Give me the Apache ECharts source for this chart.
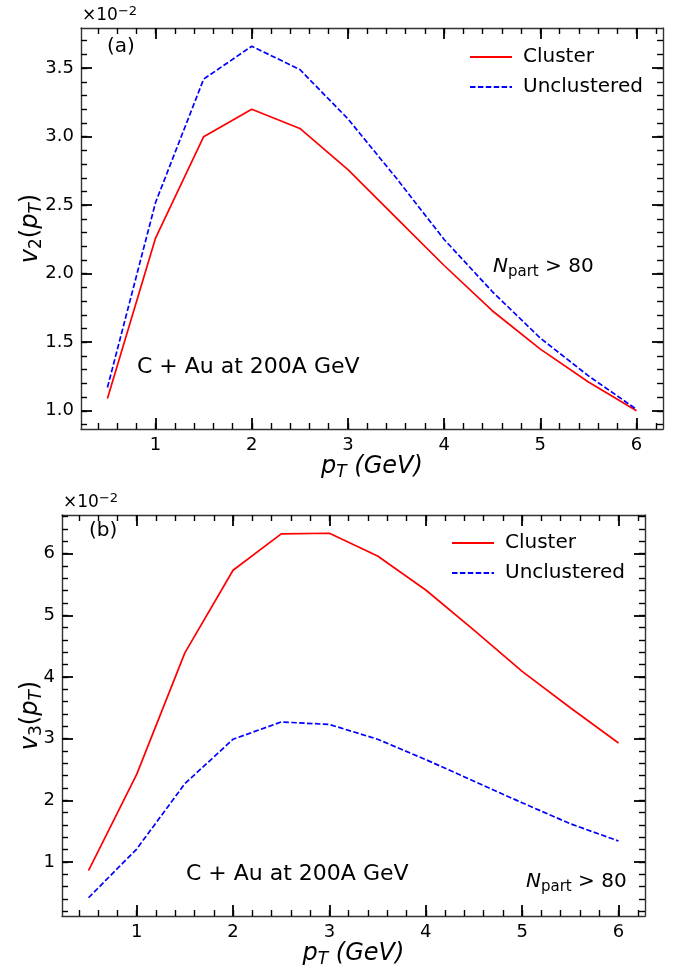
<!DOCTYPE html>
<html>
<head>
<meta charset="utf-8">
<title>v2 / v3 vs pT, C+Au</title>
<script src="https://cdn.jsdelivr.net/npm/echarts@6/dist/echarts.min.js"></script>
</head>
<body style="margin:0;background:#fff">
<div id="main" style="width:683px;height:970px;"></div>
<script>
// transverse momentum points (GeV)
var pt = [0.5, 1, 1.5, 2, 2.5, 3, 3.5, 4, 4.5, 5, 5.5, 6];
// v2 values, in units of 1e-2
var v2Cluster     = [1.09, 2.26, 3.00, 3.20, 3.06, 2.76, 2.41, 2.06, 1.73, 1.45, 1.21, 1.00];
var v2Unclustered = [1.17, 2.52, 3.42, 3.66, 3.49, 3.13, 2.70, 2.25, 1.87, 1.53, 1.255, 1.01];
// v3 values, in units of 1e-2
var v3Cluster     = [0.86, 2.42, 4.39, 5.73, 6.32, 6.33, 5.96, 5.41, 4.76, 4.09, 3.50, 2.93];
var v3Unclustered = [0.42, 1.21, 2.27, 2.99, 3.27, 3.23, 2.99, 2.66, 2.31, 1.96, 1.62, 1.34];

// tick labels
var xTicks = [1, 2, 3, 4, 5, 6];
var v2Ticks = [1.0, 1.5, 2.0, 2.5, 3.0, 3.5];
var v3Ticks = [1, 2, 3, 4, 5, 6];

var FONT = 'DejaVu Sans';

function steps(from, to, step) {
  var out = [];
  for (var v = from; v <= to + 1e-9; v += step) out.push(Math.round(v * 1000) / 1000);
  return out;
}
var xMinor = steps(0.4, 6.2, 0.2);
var v2Minor = steps(0.9, 3.7, 0.1);
var v3Minor = steps(0.2, 6.6, 0.2);

var XR = [0.225, 6.275];
var V2R = [0.867, 3.793];
var V3R = [0.1245, 6.6255];

// one axis that only draws ticks (and the frame line if asked)
function tickAxis(grid, pos, range, vals, major, frame) {
  return {
    type: 'value', gridIndex: grid, position: pos, min: range[0], max: range[1],
    axisLine: { show: !!frame, onZero: false, lineStyle: { color: '#333', width: 1.4 } },
    axisTick: {
      show: true, inside: true, length: major ? 11 : 6, customValues: vals,
      lineStyle: { color: '#000', width: major ? 1.8 : 1.4 }
    },
    axisLabel: { show: false },
    splitLine: { show: false }
  };
}

var tickLabel = { fontFamily: FONT, fontSize: 18, color: '#000', margin: 7 };
var nameRich = {
  i: { fontFamily: FONT, fontSize: 24, fontStyle: 'italic', color: '#000', lineHeight: 28 },
  n: { fontFamily: FONT, fontSize: 24, color: '#000', lineHeight: 28 },
  s: { fontFamily: FONT, fontSize: 17, color: '#000', lineHeight: 17, verticalAlign: 'bottom' },
  si: { fontFamily: FONT, fontSize: 17, fontStyle: 'italic', color: '#000', lineHeight: 17, verticalAlign: 'bottom' }
};

function panelAxes(grid, yRange, yMajor, yMinor, yFmt, yName, yGap) {
  var xb = tickAxis(grid, 'bottom', XR, xTicks, true, true);
  xb.axisLabel = Object.assign({ show: true, customValues: xTicks }, tickLabel);
  xb.name = '{i|p}{si|T}{i| (GeV)}';
  xb.nameLocation = 'middle';
  xb.nameGap = 24;
  xb.nameMoveOverlap = false;
  xb.nameTextStyle = { rich: nameRich };
  var yl = tickAxis(grid, 'left', yRange, yMajor, true, true);
  yl.axisLabel = Object.assign({ show: true, customValues: yMajor, formatter: yFmt }, tickLabel);
  yl.name = yName;
  yl.nameLocation = 'middle';
  yl.nameRotate = 90;
  yl.nameGap = yGap;
  yl.nameMoveOverlap = false;
  yl.nameTextStyle = { rich: nameRich };
  return {
    x: [xb, tickAxis(grid, 'bottom', XR, xMinor, false),
        tickAxis(grid, 'top', XR, xTicks, true, true), tickAxis(grid, 'top', XR, xMinor, false)],
    y: [yl, tickAxis(grid, 'left', yRange, yMinor, false),
        tickAxis(grid, 'right', yRange, yMajor, true, true), tickAxis(grid, 'right', yRange, yMinor, false)]
  };
}

var axA = panelAxes(0, V2R, v2Ticks, v2Minor, function (v) { return v.toFixed(1); },
  '{i|v}{s|2}{n|(}{i|p}{si|T}{n|)}', 36);
var axB = panelAxes(1, V3R, v3Ticks, v3Minor, function (v) { return String(v); },
  '{i|v}{s|3}{n|(}{i|p}{si|T}{n|)}', 17);

function pairs(ys) { return pt.map(function (x, i) { return [x, ys[i]]; }); }
function lineSeries(name, ys, xi, yi, color, dashed) {
  return {
    name: name, type: 'line', xAxisIndex: xi, yAxisIndex: yi, symbol: 'none',
    lineStyle: { color: color, width: 1.7, type: dashed ? [5.5, 2.4] : 'solid' },
    itemStyle: { color: color }, data: pairs(ys)
  };
}

function txt(left, top, text, size, rich) {
  return { type: 'text', left: left, top: top,
    style: { text: text, fontFamily: FONT, fontSize: size, fill: '#000', rich: rich } };
}
var npartRich = {
  i: { fontFamily: FONT, fontSize: 20, fontStyle: 'italic', lineHeight: 26 },
  s: { fontFamily: FONT, fontSize: 15, lineHeight: 15, verticalAlign: 'bottom' },
  n: { fontFamily: FONT, fontSize: 20, lineHeight: 26 }
};
var expRich = {
  n: { fontFamily: FONT, fontSize: 17, lineHeight: 22 },
  p: { fontFamily: FONT, fontSize: 13, lineHeight: 13, verticalAlign: 'top' }
};

var legendBase = {
  orient: 'vertical', itemWidth: 42, itemHeight: 14, itemGap: 10,
  itemStyle: { opacity: 0 },
  textStyle: { fontFamily: FONT, fontSize: 20, color: '#000', padding: [0, 0, 0, 6] },
  data: ['Cluster', 'Unclustered']
};

var myChart = echarts.init(document.getElementById('main'));
var option = {
  animation: false,
  backgroundColor: '#fff',
  grid: [
    { left: 81, top: 28, width: 582, height: 401, outerBoundsMode: 'none' },
    { left: 62, top: 515, width: 583, height: 401, outerBoundsMode: 'none' }
  ],
  xAxis: axA.x.concat(axB.x),
  yAxis: axA.y.concat(axB.y),
  legend: [
    Object.assign({ left: 464, top: 42 }, legendBase),
    Object.assign({ left: 446, top: 528 }, legendBase)
  ],
  graphic: [
    txt(82, 5, '{n|×10}{p|−2}', 17, expRich),
    txt(63, 492, '{n|×10}{p|−2}', 17, expRich),
    txt(107, 37, '(a)', 20),
    txt(89, 521, '(b)', 20),
    txt(137, 356, 'C + Au at 200A GeV', 22),
    txt(186, 863, 'C + Au at 200A GeV', 22),
    txt(493, 257, '{i|N}{s|part}{n| > 80}', 20, npartRich),
    txt(526, 872, '{i|N}{s|part}{n| > 80}', 20, npartRich)
  ],
  series: [
    lineSeries('Cluster', v2Cluster, 0, 0, '#ff0000', false),
    lineSeries('Unclustered', v2Unclustered, 0, 0, '#0000ff', true),
    lineSeries('Cluster', v3Cluster, 4, 4, '#ff0000', false),
    lineSeries('Unclustered', v3Unclustered, 4, 4, '#0000ff', true)
  ]
};
myChart.setOption(option);
</script>
</body>
</html>
